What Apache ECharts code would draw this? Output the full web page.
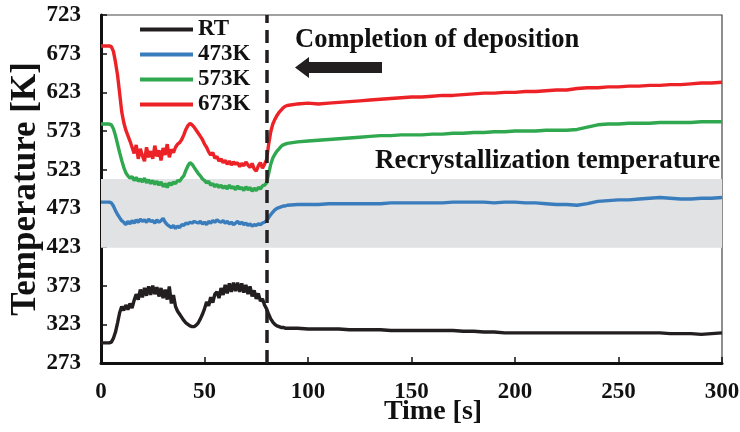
<!DOCTYPE html>
<html>
<head>
<meta charset="utf-8">
<script src="https://cdn.jsdelivr.net/npm/echarts@6/dist/echarts.min.js"></script>
<style>html,body{margin:0;padding:0;background:#fff;}#c{width:740px;height:432px;}</style>
</head>
<body>
<div id="c"></div>
<script>
// time axis (s)
var times = [0,1,2,3,4,5,6,7,8,9,10,11,12,13,14,15,16,17,18,19,20,21,22,23,24,25,26,27,28,29,30,31,32,33,34,35,36,37,38,39,40,41,42,43,44,45,46,47,48,49,50,51,52,53,54,55,56,57,58,59,60,61,62,63,64,65,66,67,68,69,70,71,72,73,74,75,76,77,78,79,80,81,82,83,84,85,86,87,88,89,90,
 95,100,105,110,115,120,125,130,135,140,145,150,155,160,165,170,175,180,185,190,195,200,205,210,215,220,225,230,235,240,245,250,255,260,265,270,275,280,285,290,295,300];

var seriesNames = ["RT", "473K", "573K", "673K"];

var rtValues = [299,299,299,299,299,300,305,313,325,338,346,341,348,342,350,344,354,362,355,368,358,370,360,372,361,373,362,371,359,370,357,368,355,372,350,361,346,340,336,332,328,325,323,321,320,320,322,325,330,336,343,352,347,358,351,362,365,357,370,361,374,363,376,365,377,366,377,365,376,364,374,362,372,359,367,356,363,353,356,348,343,336,330,326,323,321,320,319,319,318,318,
 318,317,317,317,317,316,316,316,316,315,315,315,315,315,315,315,314,314,313,313,312,312,312,312,312,312,312,312,312,312,312,312,312,312,312,312,311,311,311,310,311,312];

var k473Values = [481,481,481,481,481,480,476,470,465,461,457,455,452,456,453,457,454,458,455,459,456,458,455,459,456,457,454,458,455,457,460,455,452,450,448,451,447,450,448,452,451,454,453,455,454,456,455,454,456,453,455,452,456,454,457,455,458,456,455,457,454,456,453,455,452,454,456,453,455,452,454,451,453,450,452,451,453,452,454,455,457,461,465,468,471,473,474,475,476,476,477,
 478,478,478,479,479,479,479,479,479,480,480,480,480,480,480,481,481,481,481,480,481,481,480,480,479,478,478,477,479,482,483,484,484,485,486,487,486,485,485,486,486,487];

var k573Values = [582,582,582,582,582,581,576,567,556,545,535,526,519,515,512,514,509,513,508,511,507,512,506,510,505,509,504,508,503,507,501,505,500,506,503,507,505,509,508,512,515,522,528,532,530,526,522,518,515,511,509,506,508,503,505,501,504,500,503,499,502,498,503,499,501,497,502,498,500,496,501,497,500,495,499,496,500,498,502,503,506,518,530,538,543,547,550,553,555,556,557,
 559,560,561,562,563,564,565,566,567,567,568,568,568,569,569,570,570,571,571,572,572,573,573,573,574,574,574,575,578,581,582,582,583,583,583,584,584,584,584,585,585,585];

var k673Values = [683,683,683,683,683,682,676,662,645,622,598,584,574,567,560,552,544,555,537,550,541,534,552,539,547,537,554,540,548,535,551,542,556,539,549,545,552,556,558,562,568,575,580,583,581,578,574,570,566,562,556,552,546,542,545,538,540,534,537,532,535,530,534,529,533,530,532,527,531,528,533,529,526,531,524,521,528,532,525,530,536,556,572,582,588,593,597,600,603,605,606,
 608,609,608,609,610,611,612,613,614,615,616,617,617,618,619,619,620,621,622,622,623,623,624,624,625,626,626,628,629,629,630,630,631,631,632,632,633,633,634,635,635,636];

var yTicks = [273, 323, 373, 423, 473, 523, 573, 623, 673, 723];
var xTicks = [0, 50, 100, 150, 200, 250, 300];
var recrystBand = [422, 511];
var depositionEnd = 80;

var colors = ["#231f20", "#3a7dbd", "#2fa84f", "#ec2227"];
var valueSets = [rtValues, k473Values, k573Values, k673Values];
var FONT = "Liberation Serif";

function pairs(vals) {
  return times.map(function (t, i) { return [t, vals[i]]; });
}

var series = seriesNames.map(function (name, i) {
  return {
    name: name,
    type: "line",
    data: pairs(valueSets[i]),
    showSymbol: false,
    symbol: "none",
    smooth: false,
    z: 3,
    lineStyle: { color: colors[i], width: 3.4 },
    itemStyle: { color: colors[i] },
    emphasis: { disabled: true },
    animation: false
  };
});

// band + dashed line carried by helper series
series.unshift({
  name: "band",
  type: "line",
  data: [],
  silent: true,
  z: 1,
  markArea: {
    silent: true,
    itemStyle: { color: "#e1e2e4" },
    data: [[{ yAxis: recrystBand[0], xAxis: xTicks[0] }, { yAxis: recrystBand[1], xAxis: xTicks[xTicks.length - 1] }]]
  }
});
series.push({
  name: "dep",
  type: "line",
  data: [],
  silent: true,
  z: 4,
  markLine: {
    silent: true,
    symbol: "none",
    label: { show: false },
    lineStyle: { color: "#231f20", width: 3.5, type: [13, 7] },
    data: [{ xAxis: depositionEnd }]
  }
});

var chart = echarts.init(document.getElementById("c"), null, { renderer: "canvas" });
chart.setOption({
  animation: false,
  backgroundColor: "#ffffff",
  color: colors,
  grid: { left: 101, right: 18, top: 15, bottom: 69, show: true, borderColor: "#444", borderWidth: 1.2, containLabel: false, outerBoundsMode: "none" },
  legend: {
    data: seriesNames,
    orient: "vertical",
    left: 140,
    top: 17,
    padding: 0,
    itemGap: 0,
    itemWidth: 53,
    itemHeight: 4,
    icon: "rect",
    selectedMode: false,
    textStyle: { fontFamily: FONT, fontWeight: "bold", fontSize: 23, color: "#111", lineHeight: 25 }
  },
  xAxis: {
    type: "value",
    min: xTicks[0],
    max: xTicks[xTicks.length - 1],
    interval: 50,
    name: "Time [s]",
    nameLocation: "middle",
    nameMoveOverlap: false,
    nameGap: 35,
    nameTextStyle: { fontFamily: FONT, fontWeight: "bold", fontSize: 28, color: "#111", padding: [0, 0, 0, 43] },
    axisLine: { show: true, onZero: false, lineStyle: { color: "#111", width: 3 } },
    axisTick: { show: true, inside: true, length: 6, lineStyle: { color: "#111", width: 1.5 } },
    axisLabel: { margin: 18, fontFamily: FONT, fontWeight: "bold", fontSize: 23, color: "#111" },
    splitLine: { show: false }
  },
  yAxis: {
    type: "value",
    min: yTicks[0],
    max: yTicks[yTicks.length - 1],
    interval: 50,
    name: "Temperature [K]",
    nameLocation: "middle",
    nameMoveOverlap: false,
    nameRotate: 90,
    nameGap: 58,
    nameTextStyle: { fontFamily: FONT, fontWeight: "bold", fontSize: 35, color: "#111" },
    axisLine: { show: true, onZero: false, lineStyle: { color: "#111", width: 3 } },
    axisTick: { show: true, inside: true, length: 6, lineStyle: { color: "#111", width: 1.5 } },
    axisLabel: { margin: 20, fontFamily: FONT, fontWeight: "bold", fontSize: 23, color: "#111" },
    splitLine: { show: false }
  },
  graphic: [
    {
      type: "text", left: 295, top: 27, z: 10,
      style: { text: "Completion of deposition", fontFamily: FONT, fontWeight: "bold", fontSize: 26.5, fill: "#111" }
    },
    {
      type: "polygon", z: 10,
      shape: { points: [[295, 67.5], [309, 57], [309, 62], [382, 62], [382, 73], [309, 73], [309, 78]] },
      style: { fill: "#231f20" }
    },
    {
      type: "text", left: 375, top: 148, z: 10,
      style: { text: "Recrystallization temperature", fontFamily: FONT, fontWeight: "bold", fontSize: 27, fill: "#111" }
    }
  ],
  series: series
});
</script>
</body>
</html>
